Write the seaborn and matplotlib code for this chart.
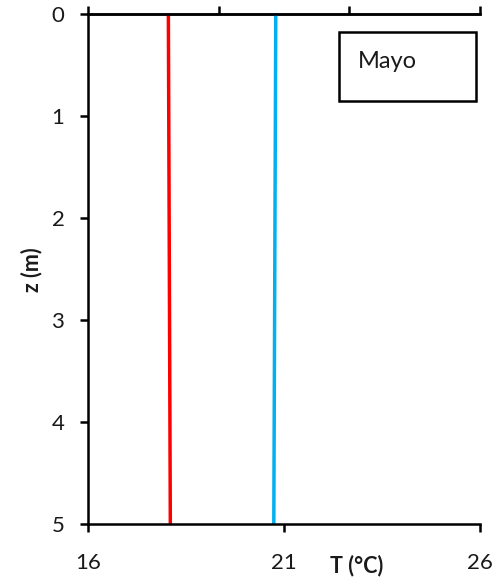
import matplotlib
matplotlib.use("Agg")
import matplotlib.pyplot as plt
import seaborn as sns
import pandas as pd
from matplotlib.patches import Rectangle

# ---- data ----
depth = [0, 5]
temp_red = [18.05, 18.10]
temp_blue = [20.79, 20.74]
series_names = ["rojo", "azul"]
x_ticks = [16, 21, 26]
top_ticks = [16, 16 + 10 / 3, 16 + 20 / 3, 26]
y_ticks = [0, 1, 2, 3, 4, 5]
legend_label = "Mayo"
xlabel = "T (°C)"
ylabel = "z (m)"

sns.set_theme(style="white")
plt.rcParams['font.family'] = ['Lato', 'DejaVu Sans']

fig = plt.figure(figsize=(4.95, 5.87), dpi=100)
ax = fig.add_axes([88 / 495, 1 - 523.5 / 587, 392 / 495, 509.5 / 587])

df = pd.DataFrame({
    "z": depth + depth,
    "T": temp_red + temp_blue,
    "serie": [series_names[0]] * len(depth) + [series_names[1]] * len(depth),
})
sns.lineplot(data=df, x="T", y="z", hue="serie", palette=["#FF0000", "#00B0F0"],
             sort=False, orient="y", linewidth=2.5, legend=False, ax=ax)

ax.set_xlim(16, 26)
ax.set_ylim(5, 0)
ax.set_xticks(x_ticks)
ax.set_yticks(y_ticks)

for side in ["left", "bottom", "top"]:
    ax.spines[side].set_color("black")
    ax.spines[side].set_linewidth(1.8)
ax.spines["right"].set_visible(False)

ax.tick_params(axis="x", bottom=True, direction="out", length=6, width=1.8,
               color="black", pad=15, labelsize=16, labelcolor="#1a1a1a")
ax.tick_params(axis="y", left=True, direction="out", length=6, width=1.8,
               color="black", pad=11, labelsize=16, labelcolor="#1a1a1a")

sec = ax.secondary_xaxis("top")
sec.set_xticks(top_ticks)
sec.tick_params(axis="x", top=True, direction="out", length=6, width=1.8,
                color="black", labeltop=False)
sec.spines["top"].set_linewidth(1.8)
sec.spines["top"].set_color("black")

ax.set_xlabel(xlabel, fontweight="bold", fontsize=15.5, color="#1a1a1a")
ax.xaxis.set_label_coords(0.686, -0.083)
ax.xaxis.label.set_va("center")
ax.set_ylabel(ylabel, fontweight="bold", fontsize=15.5, color="#1a1a1a")
ax.yaxis.set_label_coords(-0.143, 0.4975)
ax.yaxis.label.set_va("center")

ax.add_patch(Rectangle((0.640, 0.830), 0.350, 0.1347, transform=ax.transAxes,
                       fill=False, edgecolor="black", linewidth=1.8, clip_on=False))
ax.text(0.689, 0.906, legend_label, transform=ax.transAxes, fontsize=17,
        va="center", ha="left", color="#1a1a1a")

fig.savefig("out.png", dpi=100)
